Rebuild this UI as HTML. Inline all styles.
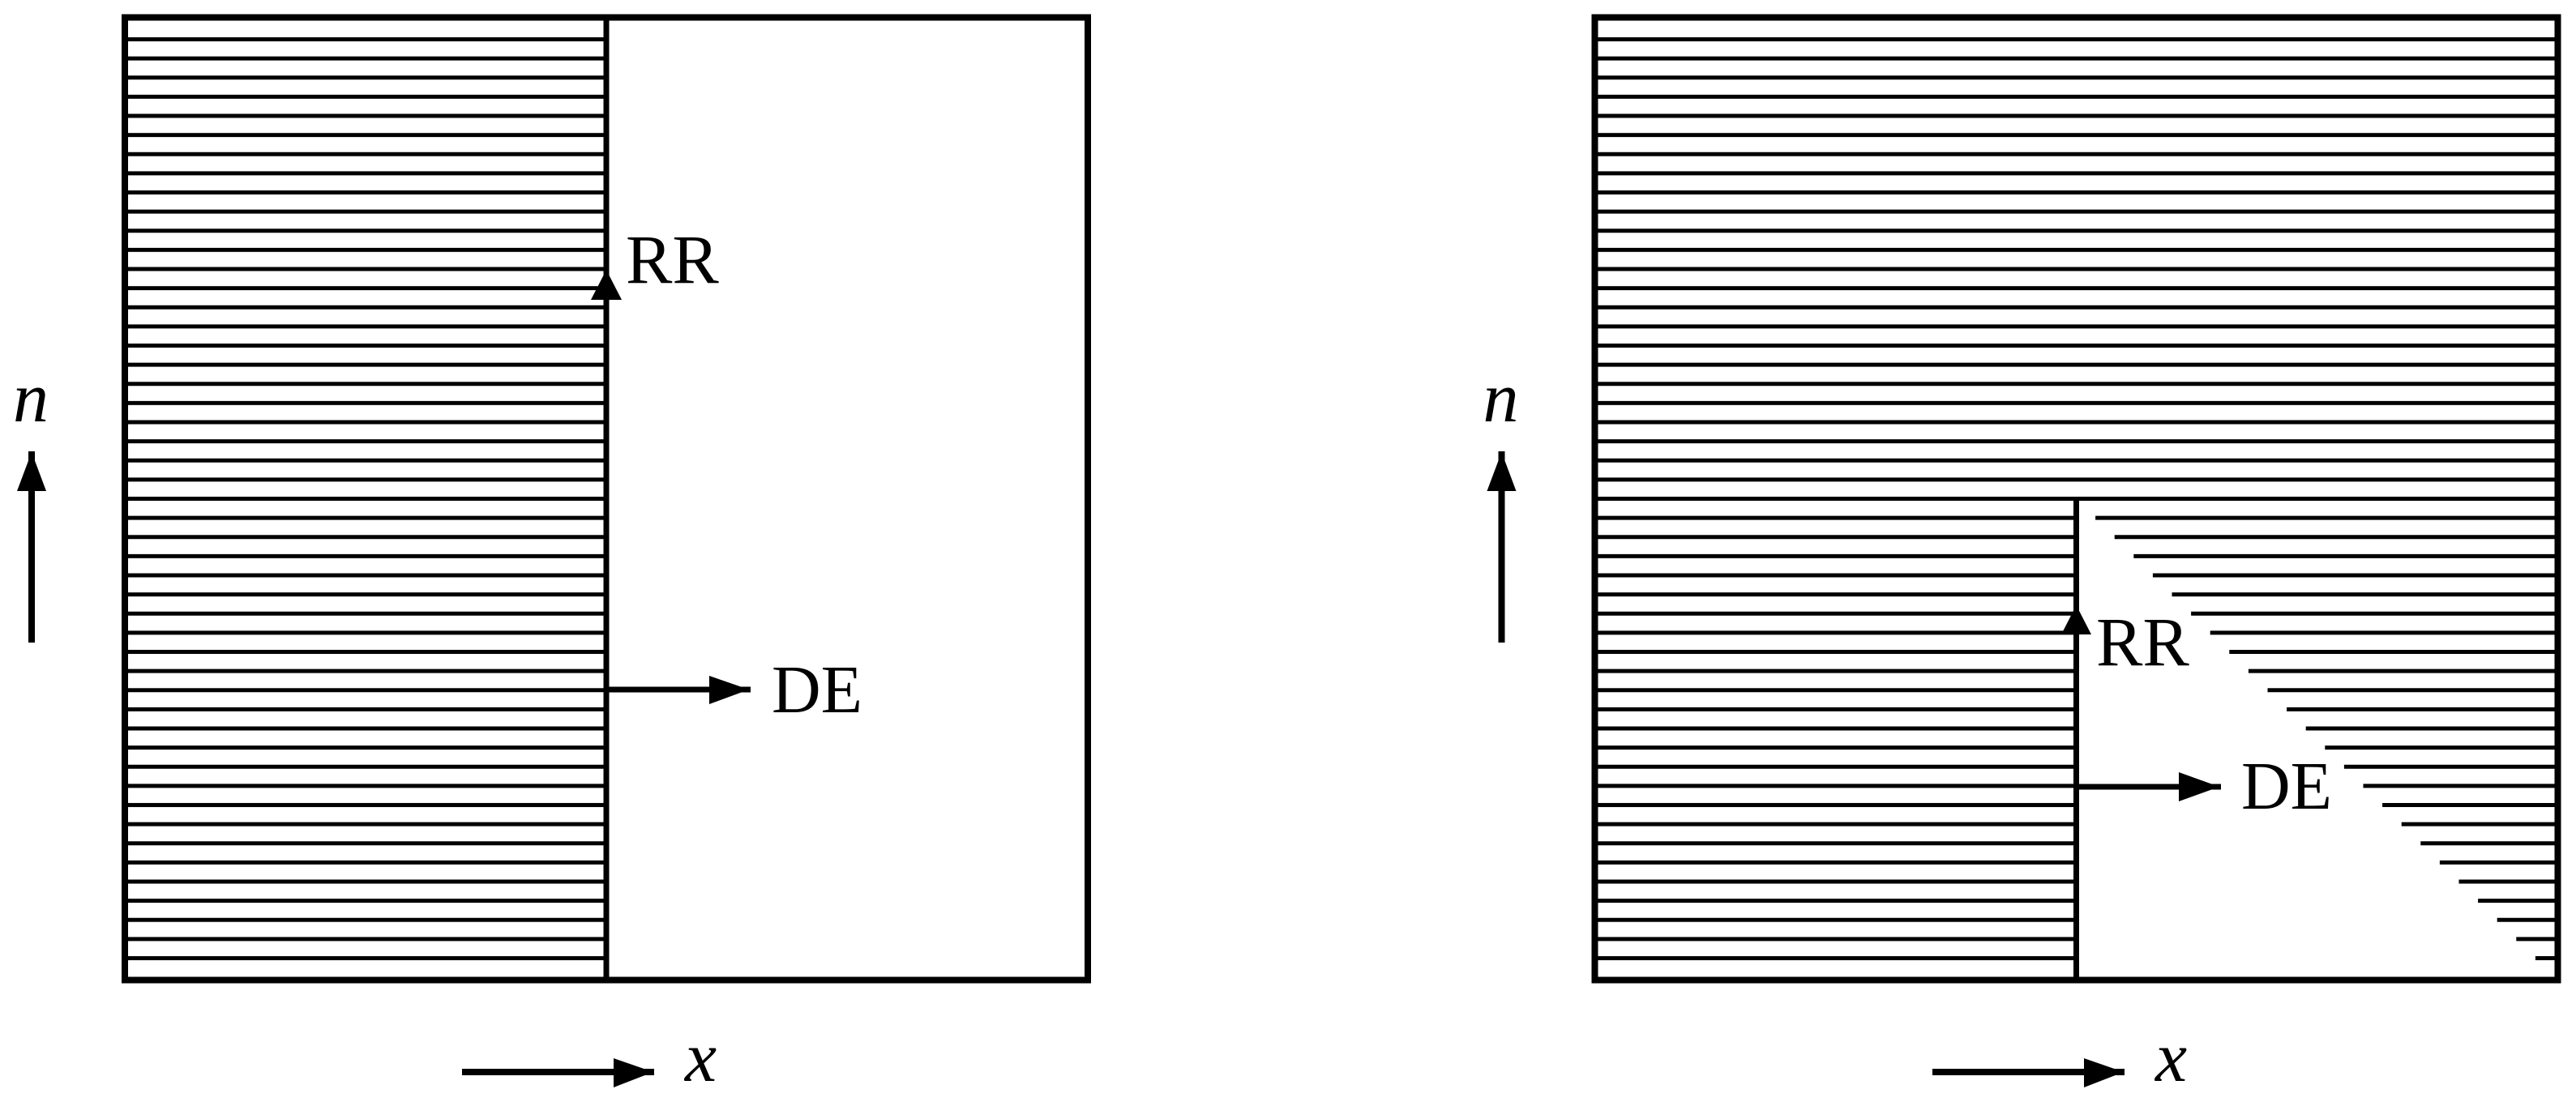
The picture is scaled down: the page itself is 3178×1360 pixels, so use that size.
<!DOCTYPE html>
<html><head><meta charset="utf-8"><style>
html,body{margin:0;padding:0;background:#fff;}
svg{display:block;}
text{font-family:"Liberation Serif","Times New Roman",serif;fill:#000;}
</style></head><body>
<svg width="3178" height="1360" viewBox="0 0 3178 1360" xmlns="http://www.w3.org/2000/svg">
<defs>
<pattern id="h" patternUnits="userSpaceOnUse" x="0" y="36.6875" width="3178" height="23.625">
<rect x="0" y="9.3125" width="3178" height="5" fill="#000"/>
</pattern>
</defs>
<rect width="3178" height="1360" fill="#fff"/>

<!-- LEFT PANEL -->
<rect x="154" y="36" width="594" height="1160" fill="url(#h)"/>
<rect x="154" y="21.5" width="1188" height="1188" fill="none" stroke="#000" stroke-width="8"/>
<line x1="748" y1="21.5" x2="748" y2="1209.5" stroke="#000" stroke-width="7"/>
<polygon points="748,333 767,370 729,370" fill="#000"/>
<text x="772" y="349" font-size="86">RR</text>
<line x1="748" y1="851" x2="926" y2="851" stroke="#000" stroke-width="7"/>
<polygon points="924,851 875,834 875,869" fill="#000"/>
<text x="952" y="879" font-size="84">DE</text>
<line x1="39" y1="793" x2="39" y2="557" stroke="#000" stroke-width="8"/>
<polygon points="39,558 57,606 21,606" fill="#000"/>
<text x="16" y="520" font-size="88" font-style="italic">n</text>
<line x1="570" y1="1323" x2="807" y2="1323" stroke="#000" stroke-width="8"/>
<polygon points="806,1323 757,1306 757,1342" fill="#000"/>
<text x="845" y="1334" font-size="88" font-style="italic">x</text>

<!-- RIGHT PANEL -->
<rect x="1967.5" y="36" width="1188" height="583" fill="url(#h)"/>
<rect x="1967.5" y="619" width="594" height="577" fill="url(#h)"/>
<g stroke="#000" stroke-width="5">
<line x1="2585.1" y1="639.1" x2="3155" y2="639.1"/>
<line x1="2608.7" y1="662.75" x2="3155" y2="662.75"/>
<line x1="2632.3" y1="686.4" x2="3155" y2="686.4"/>
<line x1="2655.9" y1="710" x2="3155" y2="710"/>
<line x1="2679.5" y1="733.6" x2="3155" y2="733.6"/>
<line x1="2703.1" y1="757.25" x2="3155" y2="757.25"/>
<line x1="2726.7" y1="780.9" x2="3155" y2="780.9"/>
<line x1="2750.3" y1="804.5" x2="3155" y2="804.5"/>
<line x1="2773.9" y1="828.1" x2="3155" y2="828.1"/>
<line x1="2797.5" y1="851.75" x2="3155" y2="851.75"/>
<line x1="2821.1" y1="875.4" x2="3155" y2="875.4"/>
<line x1="2844.7" y1="899" x2="3155" y2="899"/>
<line x1="2868.3" y1="922.6" x2="3155" y2="922.6"/>
<line x1="2891.9" y1="946.25" x2="3155" y2="946.25"/>
<line x1="2915.5" y1="969.9" x2="3155" y2="969.9"/>
<line x1="2939.1" y1="993.5" x2="3155" y2="993.5"/>
<line x1="2962.7" y1="1017.1" x2="3155" y2="1017.1"/>
<line x1="2986.3" y1="1040.75" x2="3155" y2="1040.75"/>
<line x1="3009.9" y1="1064.4" x2="3155" y2="1064.4"/>
<line x1="3033.5" y1="1088" x2="3155" y2="1088"/>
<line x1="3057.1" y1="1111.6" x2="3155" y2="1111.6"/>
<line x1="3080.7" y1="1135.25" x2="3155" y2="1135.25"/>
<line x1="3104.3" y1="1158.9" x2="3155" y2="1158.9"/>
<line x1="3127.9" y1="1182.5" x2="3155" y2="1182.5"/>
</g>
<rect x="1967.5" y="21.5" width="1188" height="1188" fill="none" stroke="#000" stroke-width="8"/>
<line x1="2561.5" y1="615.5" x2="2561.5" y2="1209.5" stroke="#000" stroke-width="7"/>
<line x1="2561.5" y1="615.5" x2="3155" y2="615.5" stroke="#000" stroke-width="5"/>
<polygon points="2561.5,747 2580,783 2543,783" fill="#000"/>
<text x="2586" y="821" font-size="86">RR</text>
<line x1="2561.5" y1="971" x2="2740" y2="971" stroke="#000" stroke-width="7"/>
<polygon points="2738,971 2688,953 2688,989" fill="#000"/>
<text x="2765" y="998" font-size="84">DE</text>
<line x1="1852.5" y1="793" x2="1852.5" y2="557" stroke="#000" stroke-width="8"/>
<polygon points="1852.5,558 1870.5,606 1834.5,606" fill="#000"/>
<text x="1829.5" y="520" font-size="88" font-style="italic">n</text>
<line x1="2384" y1="1323" x2="2621" y2="1323" stroke="#000" stroke-width="8"/>
<polygon points="2620,1323 2571,1306 2571,1342" fill="#000"/>
<text x="2659" y="1334" font-size="88" font-style="italic">x</text>
</svg>
</body></html>
